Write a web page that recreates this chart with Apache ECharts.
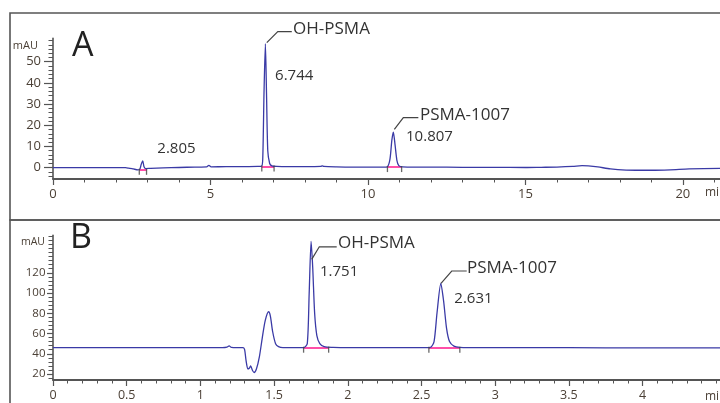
<!DOCTYPE html>
<html><head><meta charset="utf-8">
<script src="https://cdn.jsdelivr.net/npm/echarts@6/dist/echarts.min.js"></script>
<style>html,body{margin:0;padding:0;background:#fff}#c{width:720px;height:403px}</style>
</head><body><div id="c"></div>
<script>
// ---------- Panel A (chromatogram, 0-21 min) ----------
const timeA   = [0,0.5,1.0,1.5,2.0,2.3,2.4,2.55,2.7,2.76,2.80,2.85,2.89,2.95,3.1,3.5,4.0,4.5,4.88,4.95,5.02,5.5,6.0,6.5,6.62,6.66,6.70,6.744,6.78,6.82,6.88,6.95,7.1,7.5,8.0,8.5,8.55,8.6,9.0,9.5,10.0,10.5,10.62,10.7,10.76,10.807,10.86,10.92,10.98,11.1,11.5,12,13,14,15,15.5,16,16.5,16.8,17.0,17.3,17.7,18.2,19.0,19.6,20.2,21.2];
const signalA = [0,0,0,0,0,0,-0.2,-0.6,-1.0,-0.6,1.5,3.2,0.5,-0.4,-0.3,-0.1,0.1,0.3,0.4,1.1,0.4,0.5,0.5,0.6,0.7,4,35,58.5,35,8,2,0.9,0.6,0.5,0.5,0.6,0.9,0.6,0.4,0.3,0.3,0.3,0.5,4,13,16.8,11,3.5,1,0.4,0.3,0.3,0.2,0.2,0.1,0.2,0.3,0.6,1.0,0.9,0.4,-0.6,-1.1,-1.2,-1.0,-0.6,-0.3];
const peakRtA     = [2.805, 6.744, 10.807];
const peakHeightA = [3.2, 58.5, 16.8];
const peakNameA   = ['', 'OH-PSMA', 'PSMA-1007'];
const integStartA = [2.74, 6.63, 10.62];
const integEndA   = [2.97, 7.02, 11.07];
const integLevelA = [-1.0, 0.6, 0.3];
const xTicksA = [0, 5, 10, 15, 20];
const yTicksA = [0, 10, 20, 30, 40, 50];

// ---------- Panel B (chromatogram, 0-4.5 min) ----------
const timeB   = [0,0.5,1.0,1.15,1.18,1.195,1.21,1.25,1.29,1.30,1.31,1.322,1.333,1.341,1.352,1.364,1.38,1.40,1.42,1.44,1.463,1.475,1.49,1.51,1.53,1.56,1.70,1.725,1.738,1.751,1.762,1.775,1.79,1.81,1.84,1.9,2.0,2.5,2.56,2.585,2.605,2.631,2.65,2.67,2.69,2.72,2.76,2.9,3.5,4.0,4.53];
const signalB = [46,46,46,46,46.5,47.8,46.3,46,46,44,33,25,26,28,24,21.5,25,37,56,73,81.5,77,62,50,47,46,46,50,100,151,125,80,58,50,47,46.3,46,46,46.3,52,80,109.5,92,65,52,47.5,46.3,46,46,45.8,45.8];
const peakRtB     = [1.751, 2.631];
const peakHeightB = [151, 109.5];
const peakNameB   = ['OH-PSMA', 'PSMA-1007'];
const integStartB = [1.70, 2.55];
const integEndB   = [1.87, 2.76];
const integLevelB = [46, 46];
const xTicksB = [0, 0.5, 1, 1.5, 2, 2.5, 3, 3.5, 4];
const yTicksB = [20, 40, 60, 80, 100, 120];

// ---------- styling / layout ----------
function range(a, b, s) { const r = []; for (let v = a; v <= b + 1e-9; v += s) r.push(+v.toFixed(4)); return r; }
const xMinorA = range(0, 21, 1), yMinorA = range(-4, 60, 2);
const xMinorB = range(0, 4.5, 0.1), yMinorB = range(16, 156, 4);

const FONT = '"Open Sans", "Noto Sans", sans-serif';
const TRACE = '#3a3aa6', PINK = '#ff4fa8', AXIS = '#555', TXT = '#333', TICKTXT = '#4b4036';

// annotation offsets (px, relative to the peak apex)
const layoutA = [
  { num: [16, -12] },
  { lead: [[1.4, -1], [12.4, -12], [26.4, -12]], name: [27.7, -14.2], num: [9.7, 32.3] },
  { lead: [[1, -2.7], [10, -14.4], [25, -14.4]], name: [26.7, -16.7], num: [12.7, 4.6] }
];
const layoutB = [
  { lead: [[0.6, 18], [8.2, 5.4], [25.6, 5.4]], name: [26.9, 2], num: [8.9, 30.4] },
  { lead: [[0.2, 0], [10.9, -12.4], [25.9, -12.4]], name: [26.2, -15], num: [13.5, 15.6] }
];

const chart = echarts.init(document.getElementById('c'), null, { renderer: 'canvas' });

function xAxes(grid, max, majors, minors, fs) {
  return [
    { gridIndex: grid, type: 'value', min: 0, max: max, position: 'bottom',
      axisLine: { show: true, onZero: false, lineStyle: { color: AXIS, width: 1.8 } },
      axisTick: { show: true, customValues: majors, length: 6, lineStyle: { color: AXIS, width: 1.2 } },
      axisLabel: { show: true, customValues: majors, margin: 9, fontSize: fs, fontFamily: FONT, color: TICKTXT },
      splitLine: { show: false } },
    { gridIndex: grid, type: 'value', min: 0, max: max, position: 'bottom',
      axisLine: { show: false, onZero: false },
      axisTick: { show: true, customValues: minors, length: 3.5, lineStyle: { color: AXIS, width: 1 } },
      axisLabel: { show: false }, splitLine: { show: false } }
  ];
}
function yAxes(grid, min, max, majors, minors, fs, majLen, margin, nameFs, namePad) {
  return [
    { gridIndex: grid, type: 'value', min: min, max: max, position: 'left',
      name: 'mAU', nameLocation: 'end', nameGap: -7,
      nameTextStyle: { fontSize: nameFs, fontFamily: FONT, color: TICKTXT, align: 'right', verticalAlign: 'middle', padding: [0, namePad, 0, 0] },
      axisLine: { show: true, onZero: false, lineStyle: { color: AXIS, width: 1.6 } },
      axisTick: { show: true, customValues: majors, length: majLen, lineStyle: { color: AXIS, width: 1.2 } },
      axisLabel: { show: true, customValues: majors, margin: margin, fontSize: fs, fontFamily: FONT, color: TICKTXT },
      splitLine: { show: false } },
    { gridIndex: grid, type: 'value', min: min, max: max, position: 'left',
      axisLine: { show: false, onZero: false },
      axisTick: { show: true, customValues: minors, length: 4.5, lineStyle: { color: AXIS, width: 1 } },
      axisLabel: { show: false }, splitLine: { show: false } }
  ];
}

function traceSeries(xi, yi, t, s) {
  return { type: 'line', xAxisIndex: xi, yAxisIndex: yi, data: t.map((v, i) => [v, s[i]]),
    showSymbol: false, smooth: 0.25, lineStyle: { color: TRACE, width: 1.3 }, z: 3, silent: true };
}
function integSeries(xi, yi, st, en, lv) {
  return { type: 'lines', coordinateSystem: 'cartesian2d', xAxisIndex: xi, yAxisIndex: yi,
    data: st.map((s, i) => ({ coords: [[s, lv[i]], [en[i], lv[i]]] })),
    lineStyle: { color: PINK, width: 2, opacity: 1 }, z: 2, silent: true };
}
function integTicks(xi, yi, st, en, lv) {
  const d = [];
  st.forEach((s, i) => { d.push([s, lv[i]]); d.push([en[i], lv[i]]); });
  return { type: 'scatter', xAxisIndex: xi, yAxisIndex: yi, data: d, symbol: 'rect', symbolSize: [1.3, 6],
    symbolOffset: [0, 2], itemStyle: { color: '#444' }, z: 4, silent: true };
}
function annoSeries(xi, yi, rts, hs, names, layouts) {
  return { type: 'custom', xAxisIndex: xi, yAxisIndex: yi, clip: false, silent: true, z: 10,
    data: rts.map((r, i) => [r, hs[i], i]),
    renderItem: function (params, api) {
      const i = api.value(2);
      const p = api.coord([api.value(0), api.value(1)]);
      const L = layouts[i];
      const ch = [];
      if (names[i]) {
        ch.push({ type: 'polyline', shape: { points: L.lead.map(d => [p[0] + d[0], p[1] + d[1]]) },
          style: { stroke: '#444', lineWidth: 1.2, fill: null } });
        ch.push({ type: 'text', x: p[0] + L.name[0], y: p[1] + L.name[1],
          style: { text: names[i], fill: TXT, font: '17px ' + FONT, align: 'left', verticalAlign: 'middle' } });
      }
      ch.push({ type: 'text', x: p[0] + L.num[0], y: p[1] + L.num[1],
        style: { text: rts[i].toFixed(3), fill: TXT, font: '15px ' + FONT, align: 'left', verticalAlign: 'middle' } });
      return { type: 'group', children: ch };
    } };
}

const option = {
  animation: false,
  backgroundColor: '#fff',
  grid: [
    { left: 53, top: 38.4, width: 667, height: 140.6, containLabel: false },
    { left: 53, top: 235.3, width: 667, height: 144.7, containLabel: false }
  ],
  xAxis: [].concat(xAxes(0, 21.18, xTicksA, xMinorA, 13), xAxes(1, 4.525, xTicksB, xMinorB, 12.5)),
  yAxis: [].concat(yAxes(0, -5.33, 61, yTicksA, yMinorA, 13, 9, 12, 11, 15), yAxes(1, 14.1, 157, yTicksB, yMinorB, 11.5, 6, 7.5, 10.5, 8)),
  graphic: [
    { type: 'rect', shape: { x: 10, y: 13, width: 730, height: 207 }, style: { fill: null, stroke: '#555', lineWidth: 1.6 }, z: 0, silent: true },
    { type: 'rect', shape: { x: 10, y: 220, width: 730, height: 200 }, style: { fill: null, stroke: '#555', lineWidth: 1.6 }, z: 0, silent: true },
    { type: 'text', x: 72, y: 46, style: { text: 'A', font: '34px ' + FONT, fill: '#222', verticalAlign: 'middle' }, silent: true },
    { type: 'text', x: 70, y: 238, style: { text: 'B', font: '34px ' + FONT, fill: '#222', verticalAlign: 'middle' }, silent: true },
    { type: 'text', x: 705, y: 193, style: { text: 'min', font: '12px ' + FONT, fill: TICKTXT, verticalAlign: 'middle' }, silent: true },
    { type: 'text', x: 705, y: 397, style: { text: 'min', font: '12px ' + FONT, fill: TICKTXT, verticalAlign: 'middle' }, silent: true }
  ],
  series: [
    traceSeries(0, 0, timeA, signalA),
    integSeries(0, 0, integStartA, integEndA, integLevelA),
    integTicks(0, 0, integStartA, integEndA, integLevelA),
    annoSeries(0, 0, peakRtA, peakHeightA, peakNameA, layoutA),
    traceSeries(2, 2, timeB, signalB),
    integSeries(2, 2, integStartB, integEndB, integLevelB),
    integTicks(2, 2, integStartB, integEndB, integLevelB),
    annoSeries(2, 2, peakRtB, peakHeightB, peakNameB, layoutB)
  ]
};
chart.setOption(option);
</script></body></html>
